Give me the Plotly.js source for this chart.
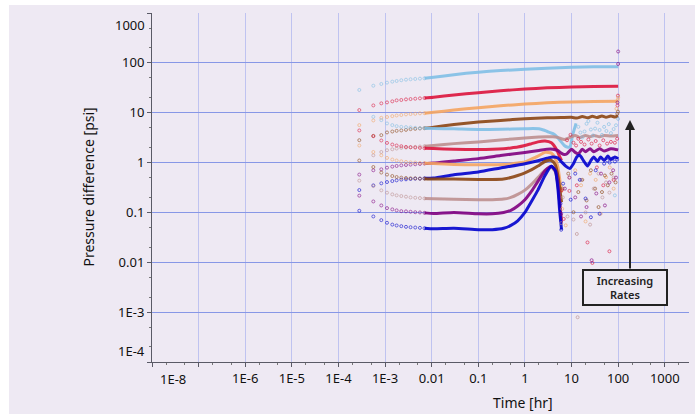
<!DOCTYPE html>
<html><head><meta charset="utf-8">
<script src="https://cdn.plot.ly/plotly-3.0.1.min.js"></script>
<style>html,body{margin:0;padding:0;background:#fff;}#chart{width:695px;height:414px;}</style>
</head><body><div id="chart"></div>
<script>
// ---------- colours ----------
const cLB = '#7FBFE5', cCR = '#DC143C', cSA = '#F4A460', cBR = '#8B4513', cRO = '#BC8F8F', cPU = '#800080', cBL = '#0000CD';

// ---------- early sparse samples (hr) ----------
const tEarly = [2.8e-4, 5.6e-4, 8.3e-4, 1.1e-3, 1.43e-3, 1.77e-3, 2.23e-3, 2.81e-3, 3.52e-3, 4.44e-3, 5.6e-3, 7.0e-3];

// pressure curves (P) and derivative curves (D), early values
const lbP_e = [28.6, 34.8, 37.7, 40.1, 42, 43.3, 44.8, 46, 46.9, 47.5, 48.2, 48.9];
const crP_e = [11.3, 14.0, 15.4, 16.1, 16.9, 17.7, 18.0, 18.5, 18.8, 19.1, 19.4, 19.7];
const saP_e = [5.64, 7.0, 7.9, 8.2, 8.55, 8.8, 9.0, 9.25, 9.4, 9.5, 9.7, 9.8];
const brP_e = [2.81, 3.43, 3.55, 4.02, 4.2, 4.33, 4.41, 4.53, 4.68, 4.75, 4.83, 4.9];
const lbD_e = [null, 8.28, 7.1, 6.1, 5.64, 5.38, 5.21, 5.14, 5.07, 4.97, 4.9, 4.9];
const roP_e = [null, 1.4, 1.63, 1.77, 1.85, 1.91, 1.97, 2.0, 2.03, 2.06, 2.1, 2.13];
const crD_e = [4.41, 3.38, 2.77, 2.48, 2.3, 2.2, 2.13, 2.06, 2.03, 2.0, 1.97, 1.94];
const puP_e = [0.574, 0.7, 0.733, 0.79, 0.83, 0.855, 0.88, 0.895, 0.91, 0.924, 0.937, 0.955];
const saD_e = [2.2, 1.63, 1.4, 1.24, 1.15, 1.1, 1.06, 1.03, 1.01, 1.0, 0.98, 0.97];
const blP_e = [0.281, 0.349, 0.383, 0.407, 0.426, 0.44, 0.455, 0.461, 0.468, 0.476, 0.476, 0.483];
const brD_e = [1.1, 0.815, 0.63, 0.574, 0.537, 0.513, 0.499, 0.49, 0.483, 0.483, 0.476, 0.476];
const roD_e = [0.434, 0.338, 0.277, 0.249, 0.23, 0.22, 0.213, 0.207, 0.2, 0.197, 0.194, 0.191];
const puD_e = [0.217, 0.166, 0.138, 0.122, 0.115, 0.11, 0.106, 0.105, 0.103, 0.101, 0.1, 0.098];
const blD_e = [0.108, 0.083, 0.07, 0.062, 0.057, 0.0547, 0.053, 0.0514, 0.0505, 0.0498, 0.0491, 0.0482];

// ---------- continuous parts ----------
const pT = [0.007, 0.011, 0.03, 0.1, 0.3, 1, 3, 10, 30, 100];
const lbP_v = [48.9, 51.4, 58, 65, 70, 74.5, 78, 82, 83.5, 84];
const crP_v = [19.7, 20.4, 22.7, 25.2, 27.5, 29.9, 31.5, 32.8, 33.5, 34];
const saP_v = [9.8, 10.2, 11.3, 12.6, 13.8, 14.9, 15.8, 16.4, 16.7, 17];
const brP_t = [0.007, 0.011, 0.03, 0.1, 0.3, 1, 3, 6, 10, 13, 17, 22, 28, 35, 45, 55, 70, 85, 100];
const brP_v = [4.9, 5.14, 5.8, 6.5, 7.0, 7.55, 7.9, 8.0, 8.1, 7.8, 8.4, 7.9, 8.5, 8.0, 8.6, 8.1, 8.6, 8.2, 8.6];
const roP_t = [0.007, 0.011, 0.03, 0.1, 0.3, 1, 2, 3, 4, 5, 6, 7, 8, 10, 12, 15, 20, 25, 30, 40, 50, 70, 100];
const roP_v = [2.13, 2.2, 2.4, 2.6, 2.85, 3.1, 3.25, 3.3, 3.3, 3.2, 3.0, 2.9, 3.0, 3.3, 3.5, 3.2, 3.5, 3.3, 3.5, 3.3, 3.5, 3.4, 3.5];
const puP_t = [0.007, 0.011, 0.03, 0.1, 0.3, 1, 2, 3, 4, 5, 6, 7, 8, 9, 10, 12, 14, 17, 20, 25, 30, 40, 50, 70, 100];
const puP_v = [0.955, 0.98, 1.08, 1.2, 1.38, 1.6, 1.75, 1.85, 1.85, 1.75, 1.55, 1.45, 1.5, 1.7, 1.85, 1.6, 1.5, 1.85, 1.65, 1.9, 1.65, 1.9, 1.7, 1.9, 1.8];
const blP_t = [0.007, 0.011, 0.03, 0.1, 0.3, 1, 2, 3, 4, 5, 6, 7.5, 9.2, 11, 13, 15, 18, 22, 26, 30, 36, 42, 50, 60, 70, 85, 100];
const blP_v = [0.483, 0.49, 0.57, 0.65, 0.78, 0.95, 1.1, 1.22, 1.3, 1.25, 1.05, 0.85, 0.76, 0.95, 1.3, 1.4, 1.1, 0.85, 1.1, 1.3, 1.05, 1.3, 1.1, 1.35, 1.15, 1.3, 1.2];

const lbD_t = [0.007, 0.011, 0.03, 0.1, 0.3, 1, 1.5, 2, 2.5, 3, 4, 5, 6, 7, 8, 9.2, 10.5, 12.5];
const lbD_v = [4.9, 4.84, 4.75, 4.62, 4.65, 4.75, 4.8, 4.75, 4.5, 4.2, 3.8, 3.2, 2.6, 2.2, 2.05, 2.06, 3.5, 6.1];
const dT = [0.007, 0.011, 0.03, 0.1, 0.2, 0.35, 0.5, 0.7, 1, 1.4, 1.9, 2.7, 3.7, 4.5, 5.1, 5.6, 6.1];
const crD_v = [1.94, 1.91, 1.85, 1.83, 1.85, 1.9, 1.97, 2.05, 2.2, 2.4, 2.6, 2.7, 2.5, 2.0, 1.6, 1.3, 1.1];
const saD_v = [0.97, 0.955, 0.92, 0.9, 0.9, 0.91, 0.94, 0.98, 1.03, 1.18, 1.35, 1.6, 1.55, 1.2, 0.8, 0.45, 0.25];
const brD_v = [0.476, 0.468, 0.47, 0.46, 0.46, 0.47, 0.5, 0.55, 0.62, 0.72, 0.85, 1.05, 1.1, 0.9, 0.55, 0.3, 0.16];
const roD_v = [0.191, 0.188, 0.183, 0.18, 0.18, 0.185, 0.2, 0.23, 0.28, 0.37, 0.5, 0.7, 0.8, 0.65, 0.35, 0.15, 0.07];
const puD_v = [0.098, 0.095, 0.1, 0.094, 0.094, 0.1, 0.11, 0.135, 0.18, 0.27, 0.42, 0.68, 0.84, 0.7, 0.38, 0.15, 0.06];
const blD_v = [0.0482, 0.0469, 0.048, 0.045, 0.045, 0.048, 0.055, 0.068, 0.1, 0.17, 0.28, 0.55, 0.84, 0.68, 0.3, 0.1, 0.045];

// ---------- late-time scattered samples ----------
const lbS_t = [14, 15.5, 17, 19, 21, 23, 26, 29, 32, 36, 40, 45, 50, 56, 63, 70, 80, 90, 100, 85];
const lbS_v = [5.2, 4.0, 3.2, 4.2, 6.0, 6.8, 4.6, 3.5, 4.8, 6.3, 4.5, 3.6, 5.2, 4.3, 5.9, 3.9, 4.7, 5.6, 7.5, 0.22];
const crS_t = [6.2, 6.8, 8, 9.5, 11, 12.5, 14, 16, 19, 23, 27, 33, 40, 48, 58, 70, 85, 95, 22, 28, 48, 65, 9, 13, 35, 80, 97, 99];
const crS_v = [0.28, 0.074, 2.8, 3.6, 2.5, 2.2, 3.0, 2.6, 2.3, 2.9, 2.4, 2.7, 2.2, 2.8, 2.4, 2.6, 2.5, 3.0, 0.025, 0.0097, 0.35, 0.0166, 0.27, 0.35, 0.8, 0.45, 14, 22];
const saS_t = [6.3, 7.5, 9, 12, 16, 20, 25, 33, 42, 55, 66, 80, 92, 98, 100];
const saS_v = [0.118, 0.055, 0.5, 0.7, 0.35, 0.066, 0.6, 0.45, 0.094, 0.51, 0.8, 0.3, 12, 18, 20];
const brS_t = [6.4, 8.5, 11, 14, 17, 21, 26, 32, 38, 45, 52, 60, 72, 88, 96, 99];
const brS_v = [0.3, 0.6, 0.101, 0.256, 0.45, 0.174, 0.7, 0.3, 0.128, 0.256, 0.55, 0.35, 0.6, 0.4, 9.5, 10.5];
const roS_t = [6.0, 6.5, 8.2, 11, 13, 16, 20, 25, 30, 38, 46, 55, 65, 80, 13.5];
const roS_v = [0.061, 0.2, 0.083, 0.072, 0.037, 0.45, 0.1, 0.057, 0.3, 0.6, 0.2, 0.4, 0.25, 0.5, 7.9e-4];
const puS_t = [6.0, 7.2, 9, 12, 16, 21, 27, 34, 43, 52, 65, 78, 90, 100, 100, 97];
const puS_v = [0.094, 0.3, 0.5, 0.2, 0.083, 0.128, 0.011, 0.24, 0.6, 0.138, 0.4, 0.7, 0.5, 95, 169, 16];
const blS_t = [5.8, 6.0, 6.6, 9.6, 12, 15, 20, 26, 33, 40, 50, 58, 66, 75, 85, 95];
const blS_v = [0.15, 0.045, 0.378, 0.18, 0.6, 0.45, 0.19, 0.08, 0.7, 0.094, 0.95, 1.1, 1.0, 1.2, 1.05, 1.15];

// ---------- axis ticks ----------
const xTickVals = [1e-8, 1e-7, 1e-6, 1e-5, 1e-4, 1e-3, 1e-2, 1e-1, 1, 10, 100, 1000];
const xTickText = ['1E-8', '', '1E-6', '1E-5', '1E-4', '1E-3', '0.01', '0.1', '1', '10', '100', '1000'];
const yTickVals = [1e-4, 1e-3, 1e-2, 1e-1, 1, 10, 100, 1000];
const yTickText = ['1E-4', '1E-3', '0.01', '0.1', '1', '10', '100', '1000'];

// ---------- build traces ----------
const curves = [
  [cLB, lbP_e, pT, lbP_v], [cCR, crP_e, pT, crP_v], [cSA, saP_e, pT, saP_v], [cBR, brP_e, brP_t, brP_v],
  [cLB, lbD_e, lbD_t, lbD_v], [cRO, roP_e, roP_t, roP_v], [cCR, crD_e, dT, crD_v], [cPU, puP_e, puP_t, puP_v],
  [cSA, saD_e, dT, saD_v], [cBL, blP_e, blP_t, blP_v], [cBR, brD_e, dT, brD_v], [cRO, roD_e, dT, roD_v],
  [cPU, puD_e, dT, puD_v], [cBL, blD_e, dT, blD_v]
];
const scatters = [[cLB, lbS_t, lbS_v], [cCR, crS_t, crS_v], [cSA, saS_t, saS_v], [cBR, brS_t, brS_v],
  [cRO, roS_t, roS_v], [cPU, puS_t, puS_v], [cBL, blS_t, blS_v]];

const mk = c => ({symbol: 'circle-open', size: 3, color: c, line: {width: 1, color: c}});
const traces = [];
curves.forEach(([c, e, t, v]) => {
  traces.push({x: t, y: v, type: 'scatter', mode: 'lines', line: {color: c, width: 3, shape: 'spline', smoothing: 0.6},
    opacity: 0.9, hoverinfo: 'skip', showlegend: false});
  traces.push({x: tEarly, y: e, type: 'scatter', mode: 'markers', marker: mk(c), opacity: 0.6, showlegend: false});
});
scatters.forEach(([c, t, v]) => {
  traces.push({x: t, y: v, type: 'scatter', mode: 'markers', marker: mk(c), opacity: 0.65, showlegend: false});
});

const bg = '#EEE9F3';
const font = {family: 'Noto Sans, Open Sans, sans-serif', size: 13, color: '#111'};
const W = 537, H = 349; // plot area px
const annotations = [
  {xref: 'paper', yref: 'paper', x: 21 / W, y: 0, xanchor: 'center', yanchor: 'top', yshift: -6, text: xTickText[0], showarrow: false, font},
  {xref: 'paper', yref: 'paper', x: 0, y: 1 - 12 / H, xanchor: 'right', yanchor: 'middle', xshift: -5, text: yTickText[7], showarrow: false, font},
  {xref: 'paper', yref: 'paper', x: 0, y: 11 / H, xanchor: 'right', yanchor: 'middle', xshift: -5, text: yTickText[0], showarrow: false, font},
  {xref: 'paper', yref: 'paper', x: (523 - 152) / W, y: -40 / H, xanchor: 'center', yanchor: 'middle', text: 'Time [hr]', showarrow: false, font: {...font, size: 14}},
  {xref: 'paper', yref: 'paper', x: -64 / W, y: 0.5, xanchor: 'center', yanchor: 'middle', textangle: -90, text: 'Pressure difference [psi]', showarrow: false, font: {...font, size: 14}},
  {xref: 'paper', yref: 'paper', x: (630 - 152) / W, y: (362 - 120) / H, ax: 0, ay: 150, text: '', showarrow: true,
    arrowhead: 2, arrowsize: 1, arrowwidth: 2, arrowcolor: '#222'},
  {xref: 'paper', yref: 'paper', x: (624.7 - 152) / W, y: (362 - 287) / H, xanchor: 'center', yanchor: 'middle',
    text: 'Increasing<br>Rates', showarrow: false, width: 80, height: 31, borderwidth: 2, bordercolor: '#222', bgcolor: bg,
    font: {family: 'Noto Sans, sans-serif', size: 11, color: '#222', weight: 600}}
];

const axisCommon = {
  type: 'log', showline: true, linecolor: '#5a5a66', linewidth: 1, ticks: 'outside', ticklen: 4, tickcolor: '#5a5a66',
  zeroline: false, mirror: false, tickfont: font,
  minor: {ticks: 'outside', ticklen: 2, tickcolor: '#777', showgrid: false}
};

const layout = {
  width: 695, height: 414,
  margin: {l: 152, r: 6, t: 13, b: 52},
  paper_bgcolor: '#ffffff', plot_bgcolor: 'rgba(0,0,0,0)',
  xaxis: {...axisCommon, range: [-8, 3.52], tickvals: xTickVals, ticktext: xTickText.map((s, i) => i === 0 ? '' : s),
    showgrid: true, gridcolor: '#BFC3F0', gridwidth: 1},
  yaxis: {...axisCommon, range: [-4, 3], tickvals: yTickVals, ticktext: yTickText.map((s, i) => (i === 0 || i === 7) ? '' : s),
    showgrid: true, gridcolor: '#8797E6', gridwidth: 1},
  shapes: [{type: 'rect', xref: 'paper', yref: 'paper', x0: -143 / W, x1: 543 / W, y0: -52 / H, y1: 357 / H,
    fillcolor: bg, line: {width: 0}, layer: 'below'}],
  annotations,
  showlegend: false
};

Plotly.newPlot('chart', traces, layout, {staticPlot: true, displayModeBar: false});
</script>
</body></html>
